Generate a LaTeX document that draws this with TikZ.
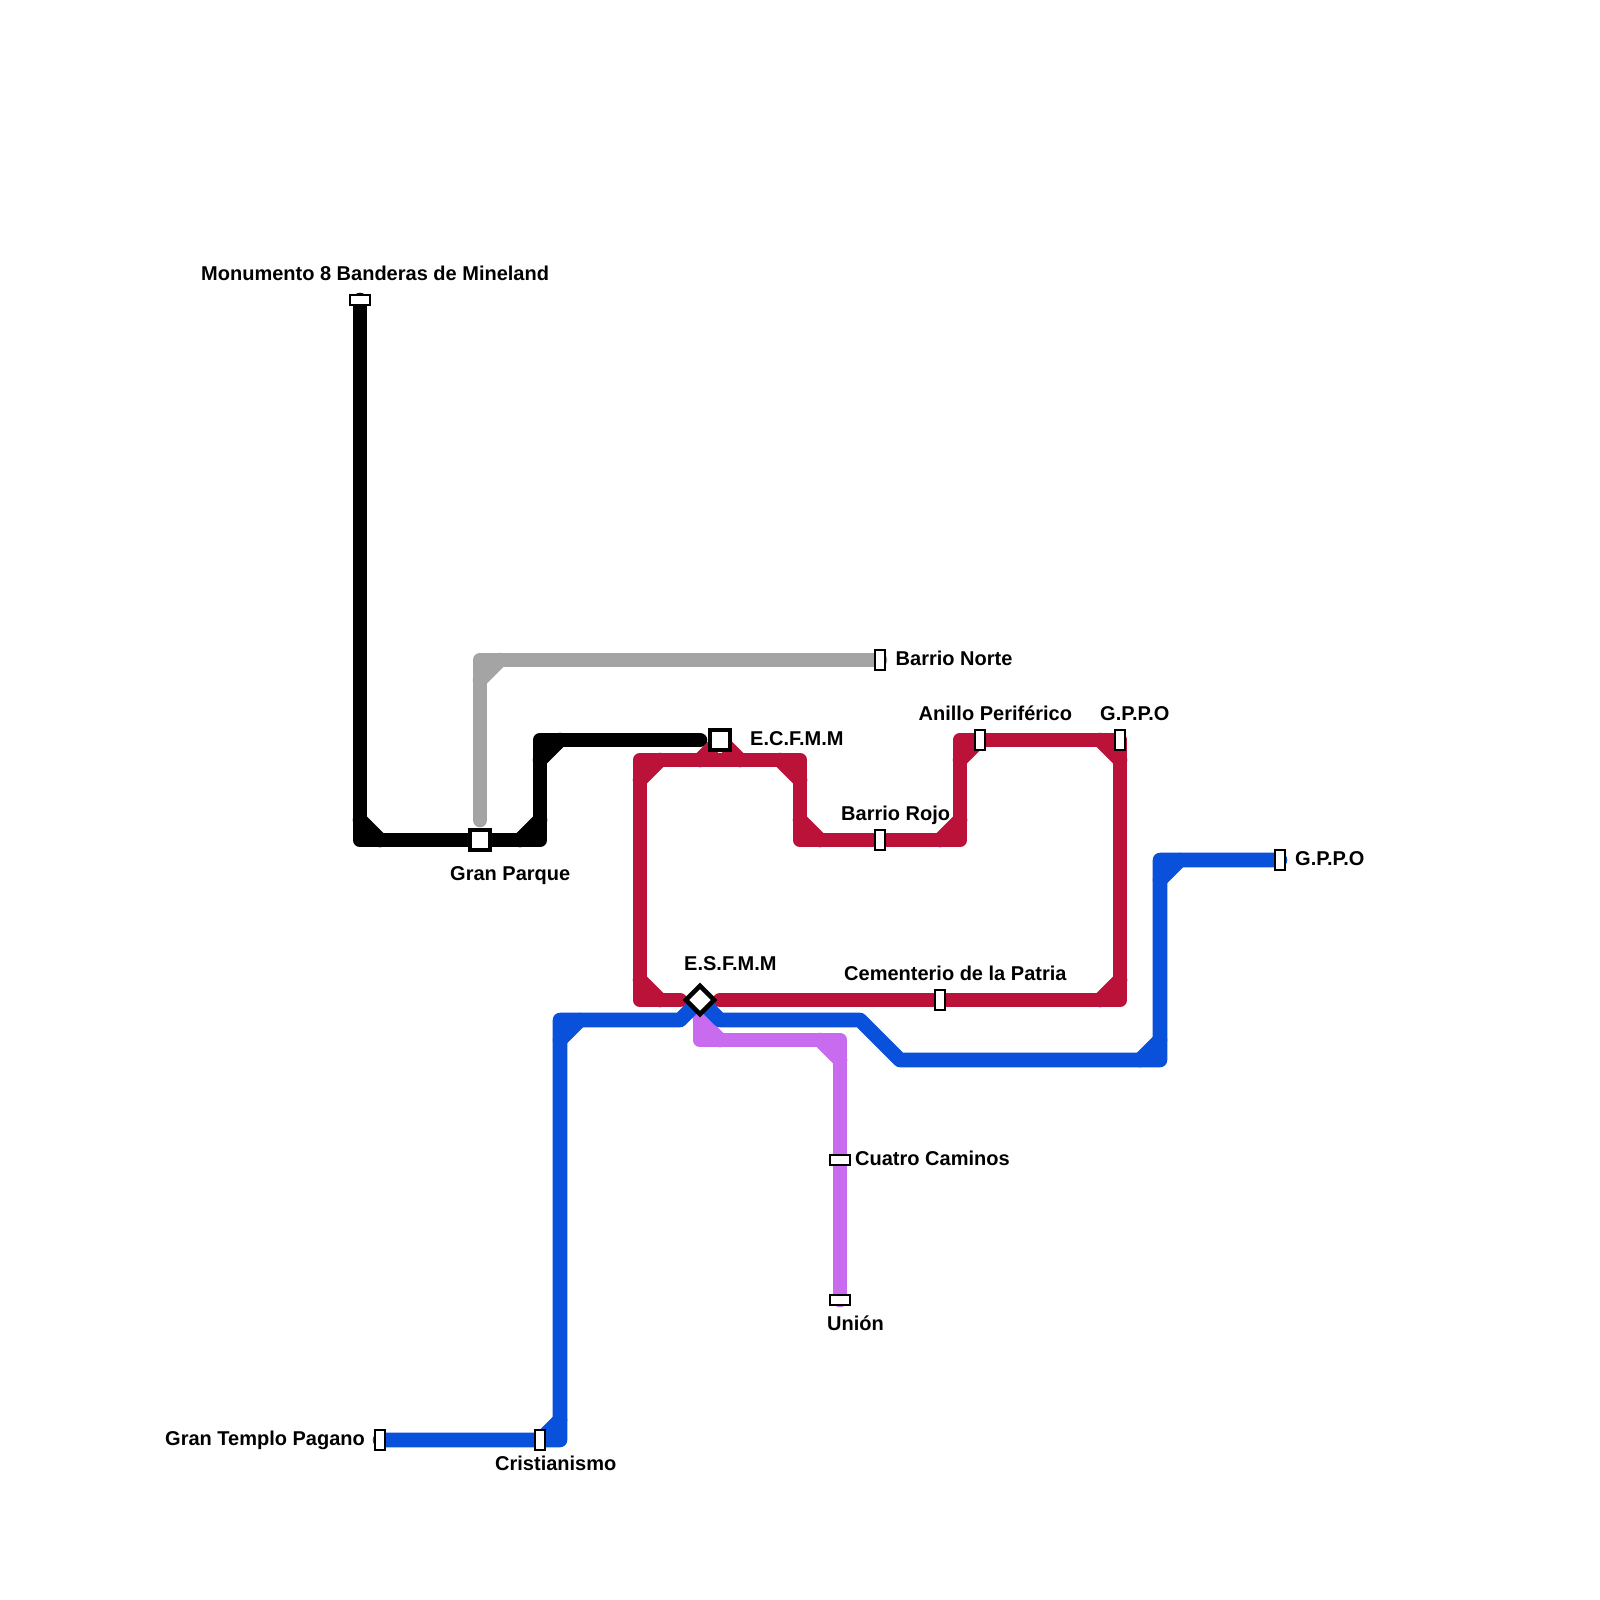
\documentclass[tikz,border=0pt]{standalone}
\usepackage{fontspec}
\setmainfont{Liberation Sans}
\tikzset{
  x=1pt,y=-1pt,
  metro/.style={line width=14.6pt,line cap=round,line join=round},
  greyline/.style={metro,draw=lineGrey},
  blackline/.style={metro,draw=black},
  redline/.style={metro,draw=lineRed},
  blueline/.style={metro,draw=lineBlue},
  purpleline/.style={metro,draw=linePurple},
  stationH/.style={draw=black,fill=white,line width=2pt,inner sep=0pt,minimum width=20pt,minimum height=10pt},
  stationV/.style={draw=black,fill=white,line width=2pt,inner sep=0pt,minimum width=10pt,minimum height=20pt},
  hub/.style={draw=black,fill=white,line width=4.5pt,inner sep=0pt,minimum width=20pt,minimum height=20pt},
  hubD/.style={hub,rotate=45},
  lbl/.style={font=\bfseries\fontsize{20}{22}\selectfont,text=black,inner sep=0pt,anchor=base west}
}
\definecolor{lineGrey}{HTML}{A4A4A4}
\definecolor{lineRed}{HTML}{BB1239}
\definecolor{lineBlue}{HTML}{0950DB}
\definecolor{linePurple}{HTML}{C96BEE}
% chamfer across a corner: style, corner, two offsets
\newcommand{\chamf}[4]{\draw[#1] ([shift={#3}]#2) -- ([shift={#4}]#2);}
\begin{document}
\begin{tikzpicture}
\useasboundingbox (0,0) rectangle (1600,1600);
\fill[white] (0,0) rectangle (1600,1600);
% anchors of the lines
\coordinate (mon) at (360,300);
\coordinate (k1) at (360,840);
\coordinate (gp) at (480,840);
\coordinate (k2) at (540,840);
\coordinate (k3) at (540,740);
\coordinate (kend) at (700,740);
\coordinate (g0) at (480,820);
\coordinate (g1) at (480,660);
\coordinate (bn) at (880,660);
\coordinate (r1) at (640,760);
\coordinate (r2) at (800,760);
\coordinate (r3) at (800,840);
\coordinate (r4) at (960,840);
\coordinate (r5) at (960,740);
\coordinate (r6) at (1120,740);
\coordinate (r7) at (1120,1000);
\coordinate (r8) at (720,1000);
\coordinate (r9) at (680,1000);
\coordinate (r10) at (640,1000);
\coordinate (rb1) at (700,760);
\coordinate (ec) at (720,740);
\coordinate (rb2) at (740,760);
\coordinate (es) at (700,1000);
\coordinate (b0) at (380,1440);
\coordinate (b1) at (560,1440);
\coordinate (b2) at (560,1020);
\coordinate (b3) at (680,1020);
\coordinate (b4) at (720,1020);
\coordinate (b5) at (860,1020);
\coordinate (b6) at (900,1060);
\coordinate (b7) at (1160,1060);
\coordinate (b8) at (1160,860);
\coordinate (b9) at (1280,860);
\coordinate (p1) at (700,1040);
\coordinate (p2) at (840,1040);
\coordinate (p3) at (840,1300);
% grey
\draw[greyline] (g0) -- (g1) -- (bn);
\chamf{greyline}{g1}{(0,20)}{(20,0)}
% black
\draw[blackline] (mon) -- (k1) -- (k2) -- (k3) -- (kend);
\chamf{blackline}{k1}{(0,-20)}{(20,0)}
\chamf{blackline}{k2}{(-20,0)}{(0,-20)}
\chamf{blackline}{k3}{(0,20)}{(20,0)}
% red
\draw[redline] (r9) -- (r10) -- (r1) -- (r2) -- (r3) -- (r4) -- (r5) -- (r6) -- (r7) -- (r8);
\draw[redline] (rb1) -- (ec) -- (rb2);
\chamf{redline}{r1}{(0,20)}{(20,0)}
\chamf{redline}{r2}{(-20,0)}{(0,20)}
\chamf{redline}{r3}{(0,-20)}{(20,0)}
\chamf{redline}{r4}{(-20,0)}{(0,-20)}
\chamf{redline}{r5}{(0,20)}{(20,0)}
\chamf{redline}{r6}{(-20,0)}{(0,20)}
\chamf{redline}{r7}{(-20,0)}{(0,-20)}
\chamf{redline}{r10}{(0,-20)}{(20,0)}
% purple
\draw[purpleline] (es) -- (p1) -- (p2) -- (p3);
\chamf{purpleline}{p1}{(0,-20)}{(20,0)}
\chamf{purpleline}{p2}{(-20,0)}{(0,20)}
% blue
\draw[blueline] (b0) -- (b1) -- (b2) -- (b3) -- (es) -- (b4) -- (b5) -- (b6) -- (b7) -- (b8) -- (b9);
\chamf{blueline}{b1}{(-20,0)}{(0,-20)}
\chamf{blueline}{b2}{(0,20)}{(20,0)}
\chamf{blueline}{b7}{(-20,0)}{(0,-20)}
\chamf{blueline}{b8}{(0,20)}{(20,0)}
% stations
\node[stationH] (sMon) at (mon) {};
\node[hub] (sGP) at (gp) {};
\node[hub] (sEC) at (ec) {};
\node[hubD] (sES) at (es) {};
\node[stationV] (sBN) at (bn) {};
\node[stationV] (sAP) at (980,740) {};
\node[stationV] (sGP1) at (1120,740) {};
\node[stationV] (sBR) at (880,840) {};
\node[stationV] (sCem) at (940,1000) {};
\node[stationV] (sGP2) at (1280,860) {};
\node[stationH] (sCC) at (840,1160) {};
\node[stationH] (sUn) at (p3) {};
\node[stationV] (sGT) at (b0) {};
\node[stationV] (sCr) at (540,1440) {};
% labels
\node[lbl] (lMon) at (201,280) {Monumento 8 Banderas de Mineland};
\node[lbl] (lGP) at (450,880) {Gran Parque};
\node[lbl] (lEC) at (750,745) {E.C.F.M.M};
\node[lbl] (lBN) at (895.5,665) {Barrio Norte};
\node[lbl] (lAP) at (918.5,720) {Anillo Periférico};
\node[lbl] (lG1) at (1100,720) {G.P.P.O};
\node[lbl] (lBR) at (841,820) {Barrio Rojo};
\node[lbl] (lG2) at (1295,865) {G.P.P.O};
\node[lbl] (lES) at (684,970) {E.S.F.M.M};
\node[lbl] (lCem) at (844,980) {Cementerio de la Patria};
\node[lbl] (lCC) at (855,1165) {Cuatro Caminos};
\node[lbl] (lUn) at (827,1330) {Unión};
\node[lbl] (lGT) at (165,1445) {Gran Templo Pagano};
\node[lbl] (lCr) at (495,1470) {Cristianismo};
\end{tikzpicture}
\end{document}
